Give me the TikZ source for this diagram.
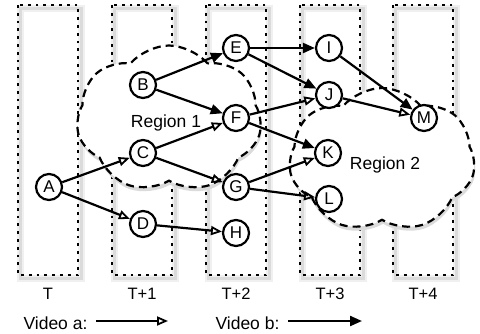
\documentclass[tikz,border=0pt]{standalone}
\usepackage{fontspec}
\setmainfont{Liberation Sans}
\usetikzlibrary{arrows.meta,shapes.symbols}
\begin{document}
\begin{tikzpicture}[x=1pt,y=-1pt,
  col/.style={draw, line width=2.6pt, dash pattern=on 2.8pt off 5pt},
  colshadowa/.style={draw=black!6, line width=7pt},
  colshadowb/.style={draw=black!14, line width=3pt},
  region/.style={cloud, cloud puffs=7, cloud puff arc=100, draw, fill=white,
    line width=2.2pt, dash pattern=on 8pt off 5pt, inner sep=0pt},
  regshadow/.style={cloud, cloud puffs=7, cloud puff arc=100, fill=black!14,
    draw=none, inner sep=0pt},
  st/.style={circle, draw, fill=white, line width=2.2pt, minimum size=26pt,
    inner sep=0pt, font=\fontsize{17}{19}\selectfont},
  lab/.style={font=\fontsize{16.5}{18}\selectfont},
  big/.style={font=\fontsize{17.5}{20}\selectfont},
  va/.style={line width=2.2pt, -{Triangle[open, length=11pt, width=9pt, line width=1.8pt]}},
  vb/.style={line width=2.2pt, -{Triangle[length=12pt, width=10pt]}}
]
\useasboundingbox (0,0) rectangle (480,333);
% column shadows
\foreach \cx in {48,142,236,330,423}{
  \draw[colshadowa] (\cx-28,8) rectangle (\cx+33,278);
  \draw[colshadowb] (\cx-28,8) rectangle (\cx+33,278);
}
% columns
\foreach \cx in {48,142,236,330,423}{
  \draw[col] (\cx-30,5) rectangle (\cx+30,275);
}
% region shadows and regions
\node[regshadow, minimum width=185pt, minimum height=147pt] at (170,123) {};
\node[regshadow, minimum width=186pt, minimum height=144pt] at (383,164) {};
\node[region, minimum width=185pt, minimum height=147pt] (r1) at (169,119) {};
\node[region, minimum width=186pt, minimum height=144pt] (r2) at (382,160) {};
\node[big] (t1) at (166,123) {Region 1};
\node[big] (t2) at (385,165) {Region 2};
% states
\node[st] (A) at (49,187) {A};
\node[st] (B) at (143,85) {B};
\node[st] (C) at (143,153) {C};
\node[st] (D) at (143,224) {D};
\node[st] (E) at (236,48) {E};
\node[st] (F) at (236,118) {F};
\node[st] (G) at (236,187) {G};
\node[st] (H) at (236,233) {H};
\node[st] (I) at (329,48) {I};
\node[st] (J) at (329,95) {J};
\node[st] (K) at (328,153) {K};
\node[st] (L) at (329,199) {L};
\node[st] (M) at (424,118) {M};
% video b (filled)
\draw[vb] (B) -- (E);
\draw[vb] (B) -- (F);
\draw[vb] (E) -- (I);
\draw[vb] (E) -- (J);
\draw[vb] (F) -- (K);
\draw[vb] (I) -- (M);
% video a (open)
\draw[va] (A) -- (C);
\draw[va] (A) -- (D);
\draw[va] (C) -- (F);
\draw[va] (C) -- (G);
\draw[va] (D) -- (H);
\draw[va] (F) -- (J);
\draw[va] (J) -- (M);
\draw[va] (G) -- (K);
\draw[va] (G) -- (L);
% time labels
\node[lab] (l0) at (48,294) {T};
\node[lab] (l1) at (142,294) {T+1};
\node[lab] (l2) at (236,294) {T+2};
\node[lab] (l3) at (330,294) {T+3};
\node[lab] (l4) at (423,294) {T+4};
% legend
\node[big, anchor=west] (la) at (20,323) {Video a:};
\node[big, anchor=west] (lb) at (212,323) {Video b:};
\coordinate (a1) at (96,321);
\coordinate (a2) at (168,321);
\coordinate (b1) at (288,321);
\coordinate (b2) at (362,321);
\draw[va] (a1) -- (a2);
\draw[vb] (b1) -- (b2);
\end{tikzpicture}
\end{document}
